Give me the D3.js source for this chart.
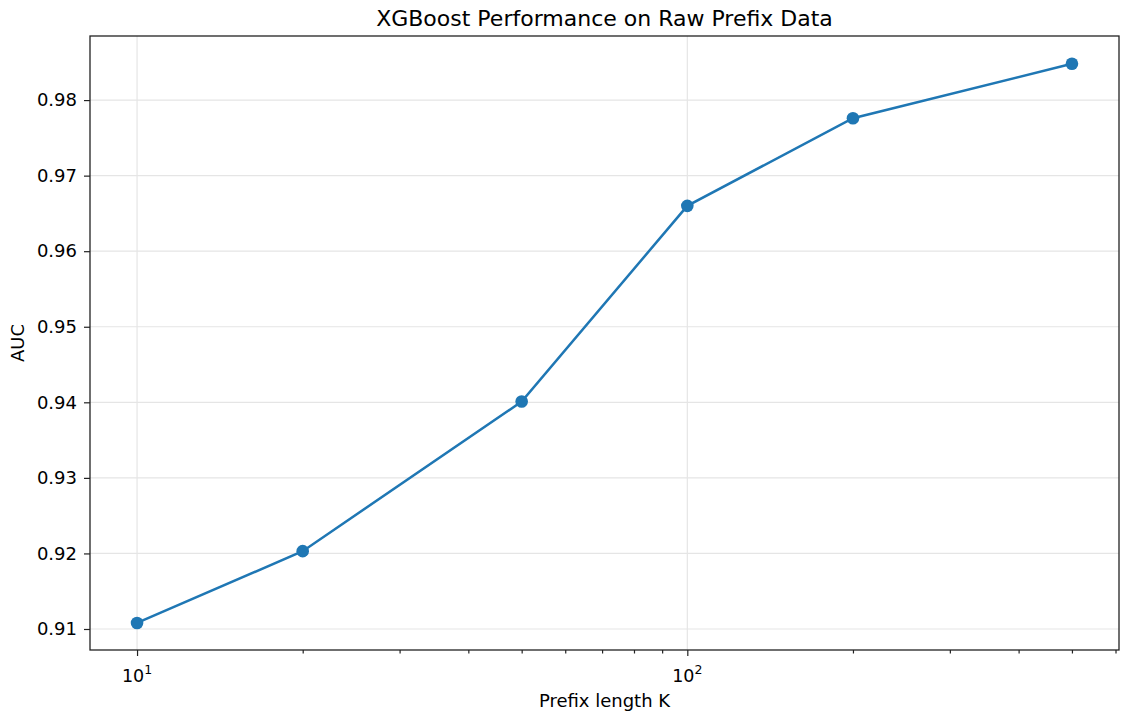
<!DOCTYPE html>
<html>
<head>
<meta charset="utf-8">
<script src="https://cdn.jsdelivr.net/npm/d3@7"></script>
<style>
  body { margin: 0; background: #fff; }
  text { font-family: "DejaVu Sans", sans-serif; fill: #000; }
</style>
</head>
<body>
<svg id="chart" width="1129" height="719"></svg>
<script>
// data
var prefixK = [10, 20, 50, 100, 200, 500];
var auc = [0.9108, 0.9203, 0.9401, 0.9660, 0.9776, 0.9848];
var yTicks = [0.91, 0.92, 0.93, 0.94, 0.95, 0.96, 0.97, 0.98];
var xMajor = [10, 100];
var xMinor = [20, 30, 40, 50, 60, 70, 80, 90, 200, 300, 400, 500, 600];

// plot box (window.top is read-only, so no bare "top")
var pL = 90, pR = 1119, pT = 36, pB = 650;
var blue = "#1f77b4";

var svg = d3.select("#chart");

var x = d3.scaleLog()
  .domain([Math.pow(10, 0.9145), Math.pow(10, 2.7845)])
  .range([pL, pR]);
var y = d3.scaleLinear()
  .domain([0.90722, 0.98848])
  .range([pB, pT]);

// grid
svg.append("g").selectAll("line").data(yTicks).enter().append("line")
  .attr("x1", pL).attr("x2", pR)
  .attr("y1", function(d){ return y(d); }).attr("y2", function(d){ return y(d); })
  .attr("stroke", "#e5e5e5").attr("stroke-width", 1.2);
svg.append("g").selectAll("line").data(xMajor).enter().append("line")
  .attr("y1", pT).attr("y2", pB)
  .attr("x1", function(d){ return x(d); }).attr("x2", function(d){ return x(d); })
  .attr("stroke", "#e5e5e5").attr("stroke-width", 1.2);

// axes
var yAxis = d3.axisLeft(y).tickValues(yTicks).tickSize(6).tickPadding(7)
  .tickFormat(d3.format(".2f"));
var gy = svg.append("g").attr("transform", "translate(" + pL + ",0)").call(yAxis);
gy.select(".domain").remove();
gy.selectAll("text").style("font-size", "18px").attr("fill", "#000");

var gxMinor = svg.append("g").attr("transform", "translate(0," + pB + ")")
  .call(d3.axisBottom(x).tickValues(xMinor).tickSize(3.5).tickFormat(""));
gxMinor.select(".domain").remove();

var gx = svg.append("g").attr("transform", "translate(0," + pB + ")")
  .call(d3.axisBottom(x).tickValues(xMajor).tickSize(6).tickFormat(""));
gx.select(".domain").remove();
svg.selectAll(".tick line").attr("stroke", "#222").attr("stroke-width", 1.2);

// log labels 10^n
xMajor.forEach(function(d){
  var t = svg.append("text")
    .attr("x", x(d)).attr("y", pB + 32)
    .attr("text-anchor", "middle")
    .style("font-size", "17.5px");
  t.append("tspan").text("10");
  t.append("tspan").attr("dy", -8).style("font-size", "12.5px")
    .text(Math.round(Math.log10(d)));
});

// frame
svg.append("rect")
  .attr("x", pL).attr("y", pT)
  .attr("width", pR - pL).attr("height", pB - pT)
  .attr("fill", "none").attr("stroke", "#222").attr("stroke-width", 1.3);

// series
var pts = prefixK.map(function(k, i){ return [k, auc[i]]; });
svg.append("path").datum(pts)
  .attr("fill", "none").attr("stroke", blue).attr("stroke-width", 2.5)
  .attr("d", d3.line().x(function(d){ return x(d[0]); }).y(function(d){ return y(d[1]); }));
svg.append("g").selectAll("circle").data(pts).enter().append("circle")
  .attr("cx", function(d){ return x(d[0]); })
  .attr("cy", function(d){ return y(d[1]); })
  .attr("r", 6.3).attr("fill", blue);

// titles
svg.append("text").attr("x", (pL + pR) / 2).attr("y", 26)
  .attr("text-anchor", "middle").style("font-size", "22px")
  .text("XGBoost Performance on Raw Prefix Data");
svg.append("text").attr("x", (pL + pR) / 2).attr("y", 707)
  .attr("text-anchor", "middle").style("font-size", "18px")
  .text("Prefix length K");
svg.append("text")
  .attr("transform", "translate(24," + ((pT + pB) / 2) + ") rotate(-90)")
  .attr("text-anchor", "middle").style("font-size", "18px")
  .text("AUC");
</script>
</body>
</html>
